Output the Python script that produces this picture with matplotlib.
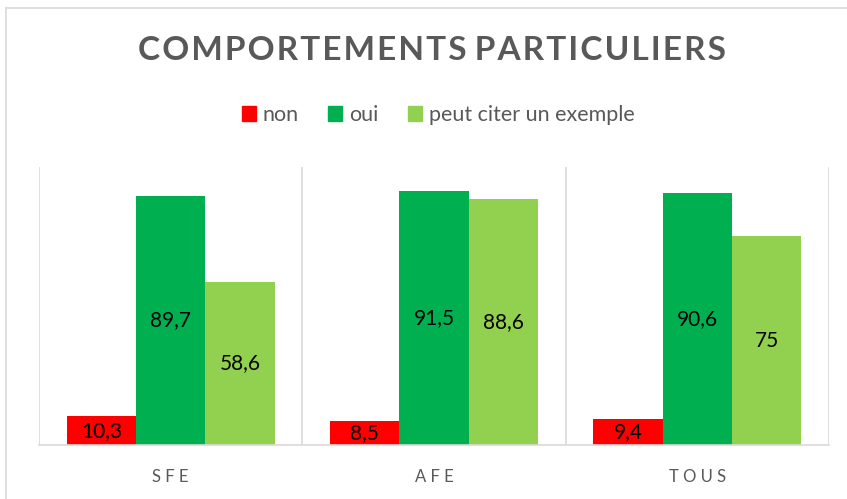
import matplotlib.pyplot as plt
import numpy as np
from matplotlib.lines import Line2D
from matplotlib.patches import Patch

# Data
categories = ["SFE", "AFE", "TOUS"]
non = [10.3, 8.5, 9.4]
oui = [89.7, 91.5, 90.6]
exemple = [58.6, 88.6, 75]
series_names = ["non", "oui", "peut citer un exemple"]
colors = ["#FF0000", "#00B050", "#92D050"]

plt.rcParams['font.family'] = ['Lato', 'DejaVu Sans']
W, H = 847, 499
fig = plt.figure(figsize=(W / 100, H / 100), dpi=100)

# Chart border (cropped at right and bottom)
fig.add_artist(Line2D([6 / W, 6 / W], [0, 1 - 8 / H], color="#D9D9D9", lw=1.2))
fig.add_artist(Line2D([6 / W, 1], [1 - 8 / H, 1 - 8 / H], color="#D9D9D9", lw=1.2))

ax = fig.add_axes([39 / W, 1 - 445 / H, (829 - 39) / W, (445 - 167) / H])

x = np.arange(len(categories))
width = 0.263
for i, (vals, name, c) in enumerate(zip([non, oui, exemple], series_names, colors)):
    bars = ax.bar(x + (i - 1) * width, vals, width, color=c, label=name)
    labels = [f"{v:g}".replace(".", ",") for v in vals]
    ax.bar_label(bars, labels=labels, label_type="center", fontsize=15, color="black")

ax.set_xlim(-0.5, len(categories) - 0.5)
ax.set_ylim(0, 100)
ax.set_yticks([])
for b in np.arange(-0.5, len(categories), 1.0):
    ax.axvline(b, color="#D9D9D9", lw=1.2, zorder=0)
for s in ["top", "left", "right"]:
    ax.spines[s].set_visible(False)
ax.spines["bottom"].set_color("#D9D9D9")
ax.spines["bottom"].set_linewidth(1.2)
ax.set_xticks(x)
ax.set_xticklabels([" ".join(c) for c in categories], fontsize=12, color="#595959")
ax.tick_params(axis="x", length=0, pad=17)

fig.text(432 / W, 1 - 50 / H, "C O M P O R T E M E N T S   P A R T I C U L I E R S".replace(" ", "\u200a").replace("\u200a\u200a\u200a", " "),
         ha="center", va="center", fontsize=24, fontweight="bold", color="#595959")

handles = [Patch(color=c) for c in colors]
fig.legend(handles, series_names, loc="center", bbox_to_anchor=(438 / W, 1 - 115 / H),
           ncol=3, frameon=False, fontsize=15.5, labelcolor="#595959",
           handlelength=0.65, handleheight=0.65, handletextpad=0.3, columnspacing=1.4)

fig.savefig("out.png", dpi=100)
